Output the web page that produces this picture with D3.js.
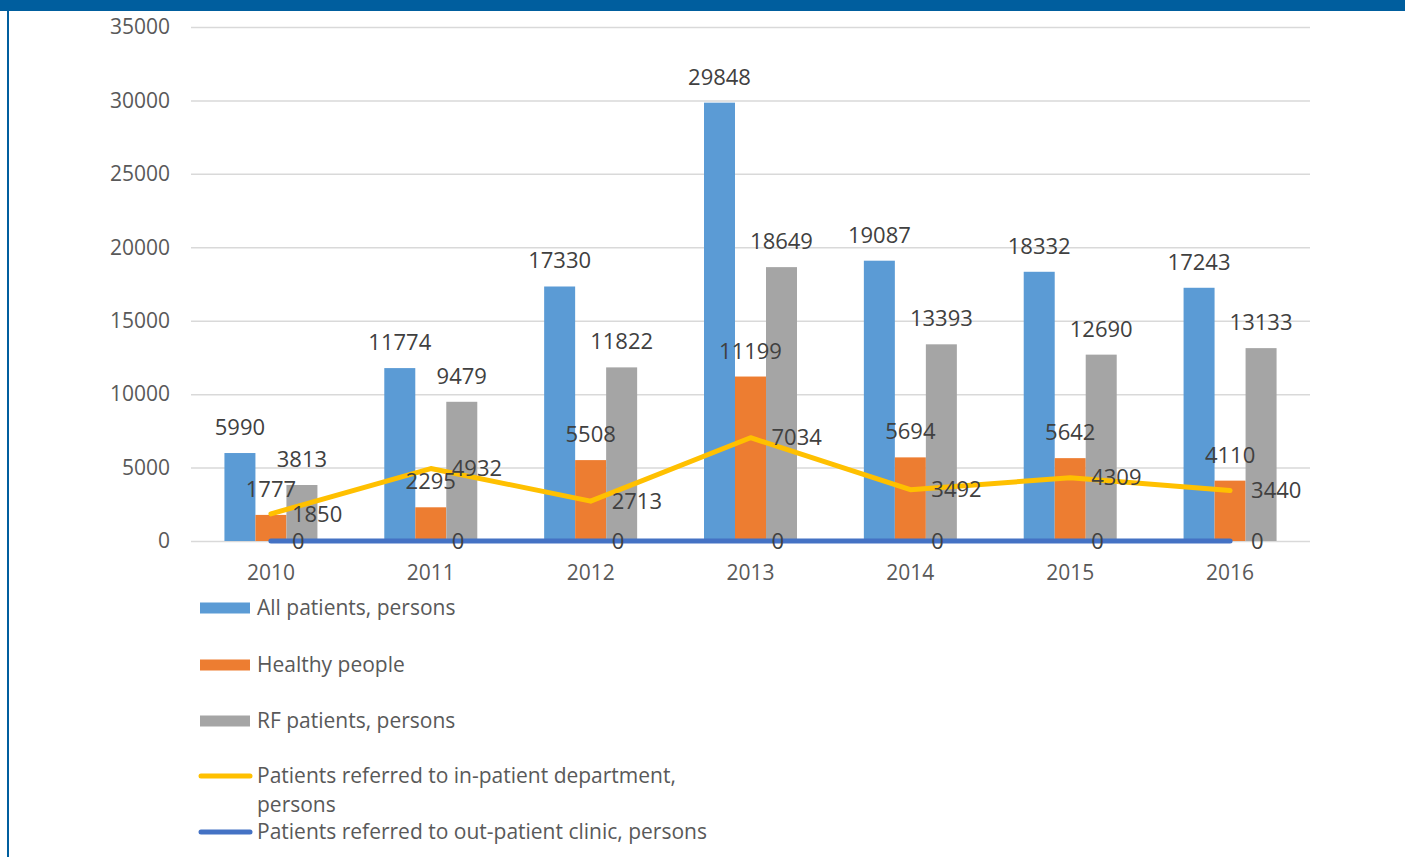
<!DOCTYPE html>
<html>
<head>
<meta charset="utf-8">
<script src="https://cdn.jsdelivr.net/npm/d3@7"></script>
<style>
  html, body { margin: 0; padding: 0; background: #fff; }
  svg { display: block; font-family: "Open Sans", sans-serif; }
</style>
</head>
<body>
<div id="chart"></div>
<script>
// Data
const years = ["2010", "2011", "2012", "2013", "2014", "2015", "2016"];
const allPatients = [5990, 11774, 17330, 29848, 19087, 18332, 17243];
const healthyPeople = [1777, 2295, 5508, 11199, 5694, 5642, 4110];
const rfPatients = [3813, 9479, 11822, 18649, 13393, 12690, 13133];
const inPatient = [1850, 4932, 2713, 7034, 3492, 4309, 3440];
const outPatient = [0, 0, 0, 0, 0, 0, 0];
const yTicks = [0, 5000, 10000, 15000, 20000, 25000, 30000, 35000];

const barSeries = [
  { name: "All patients, persons", values: allPatients, color: "#5B9BD5" },
  { name: "Healthy people", values: healthyPeople, color: "#ED7D31" },
  { name: "RF patients, persons", values: rfPatients, color: "#A5A5A5" }
];
const lineSeries = [
  { name: ["Patients referred to in-patient department,", "persons"], values: inPatient, color: "#FFC000" },
  { name: ["Patients referred to out-patient clinic, persons"], values: outPatient, color: "#4472C4" }
];

const fullWidth = 1405;
const fullHeight = 857;
const plot = { left: 191, right: 1310, top: 27, bottom: 541 };

const svg = d3.select("#chart")
  .append("svg")
  .attr("width", fullWidth)
  .attr("height", fullHeight);

// Frame
svg.append("rect")
  .attr("x", 0).attr("y", 0)
  .attr("width", fullWidth).attr("height", 11)
  .attr("fill", "#005E9E");
svg.append("rect")
  .attr("x", 7).attr("y", 0)
  .attr("width", 2).attr("height", fullHeight)
  .attr("fill", "#005E9E");

// Scales
const xScale = d3.scaleBand()
  .domain(years)
  .range([plot.left, plot.right]);

const yScale = d3.scaleLinear()
  .domain([0, 35000])
  .range([plot.bottom, plot.top]);

const barW = 31;

// Grid lines
svg.append("g")
  .attr("transform", `translate(${plot.left},0)`)
  .call(d3.axisLeft(yScale).tickValues(yTicks).tickSize(-(plot.right - plot.left)).tickFormat(""))
  .call(g => g.select(".domain").remove())
  .selectAll("line")
  .attr("stroke", "#D9D9D9")
  .attr("stroke-width", 1.5);

// Y axis labels
svg.append("g")
  .attr("transform", `translate(170,0)`)
  .call(d3.axisLeft(yScale).tickValues(yTicks).tickSize(0).tickPadding(0).tickFormat(d3.format("d")))
  .call(g => g.select(".domain").remove())
  .selectAll("text")
  .attr("fill", "#595959")
  .style("font-size", "21px")
  .style("font-family", "Open Sans, sans-serif");

// X axis labels
svg.append("g")
  .attr("transform", `translate(0,${plot.bottom})`)
  .call(d3.axisBottom(xScale).tickSize(0).tickPadding(24))
  .call(g => g.select(".domain").remove())
  .selectAll("text")
  .attr("fill", "#595959")
  .style("font-size", "21px")
  .style("font-family", "Open Sans, sans-serif");

// Bars
barSeries.forEach((s, i) => {
  const g = svg.append("g");
  const bx = d => xScale(years[d]) + xScale.bandwidth() / 2 + (i - 1.5) * barW;
  g.selectAll("rect")
    .data(s.values)
    .join("rect")
    .attr("x", (d, j) => bx(j))
    .attr("y", d => yScale(d))
    .attr("width", barW)
    .attr("height", d => yScale(0) - yScale(d))
    .attr("fill", s.color);
  s.labelX = bx;
});

// Lines
const line = d3.line()
  .x((d, j) => xScale(years[j]) + xScale.bandwidth() / 2)
  .y(d => yScale(d));

lineSeries.forEach(s => {
  svg.append("path")
    .datum(s.values)
    .attr("fill", "none")
    .attr("stroke", s.color)
    .attr("stroke-width", 5)
    .attr("stroke-linecap", "round")
    .attr("stroke-linejoin", "round")
    .attr("d", line);
});

// Bar labels
barSeries.forEach(s => {
  svg.append("g").selectAll("text")
    .data(s.values)
    .join("text")
    .attr("x", (d, j) => s.labelX(j) + barW / 2)
    .attr("y", d => yScale(d) - 18)
    .attr("text-anchor", "middle")
    .attr("fill", "#404040")
    .style("font-size", "22px")
    .text(d => d);
});

// Line labels
lineSeries.forEach(s => {
  svg.append("g").selectAll("text")
    .data(s.values)
    .join("text")
    .attr("x", (d, j) => xScale(years[j]) + xScale.bandwidth() / 2 + 21)
    .attr("y", d => yScale(d))
    .attr("dy", "0.35em")
    .attr("fill", "#404040")
    .style("font-size", "22px")
    .text(d => d);
});

// Legend
const legendRows = [608, 665, 721, 776, 832];
const legend = svg.append("g");
barSeries.forEach((s, i) => {
  legend.append("rect")
    .attr("x", 200).attr("y", legendRows[i] - 5.5)
    .attr("width", 50).attr("height", 11)
    .attr("fill", s.color);
  legend.append("text")
    .attr("x", 257).attr("y", legendRows[i])
    .attr("dy", "0.35em")
    .attr("fill", "#595959")
    .style("font-size", "21px")
    .text(s.name);
});
lineSeries.forEach((s, i) => {
  const y = legendRows[3 + i];
  legend.append("line")
    .attr("x1", 201).attr("x2", 250)
    .attr("y1", y).attr("y2", y)
    .attr("stroke", s.color)
    .attr("stroke-width", 5)
    .attr("stroke-linecap", "round");
  s.name.forEach((t, k) => {
    legend.append("text")
      .attr("x", 257).attr("y", y + k * 29)
      .attr("dy", "0.35em")
      .attr("fill", "#595959")
      .style("font-size", "21px")
      .text(t);
  });
});
</script>
</body>
</html>
